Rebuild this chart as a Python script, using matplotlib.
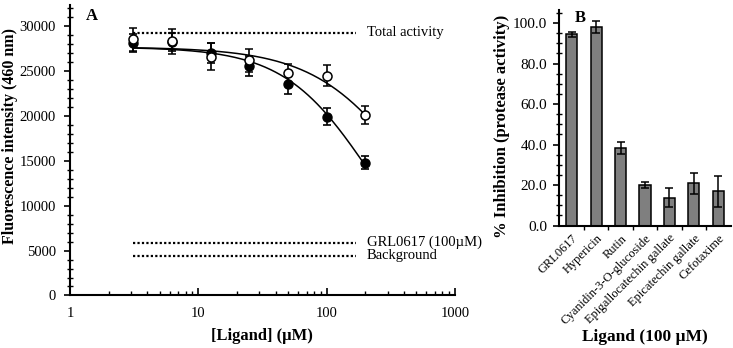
import numpy as np
import matplotlib.pyplot as plt
from matplotlib.ticker import MultipleLocator, LogLocator, NullFormatter, FixedLocator

plt.rcParams['font.family'] = ['Liberation Serif', 'DejaVu Serif']

# panel A: fluorescence vs ligand concentration
conc = [3.125, 6.25, 12.5, 25, 50, 100, 200]
filled_mean = [28200, 28300, 27050, 25550, 23550, 19950, 14800]
filled_err = [1000, 1000, 1100, 1100, 1100, 1000, 700]
open_mean = [28550, 28350, 26600, 26200, 24750, 24500, 20150]
open_err = [1300, 1400, 1500, 1300, 1100, 1200, 1000]

# fitted dose-response parameters (top, IC50, hill)
filled_fit = (27700, 215, 1.3)
open_fit = (27700, 469, 1.15)

ref_levels = [29300, 5900, 4450]
ref_names = ['Total activity', 'GRL0617 (100\u00b5M)', 'Background']

# panel B: inhibition at 100 uM
ligands = ['GRL0617', 'Hypericin', 'Rutin', 'Cyanidin-3-O-glucoside',
           'Epigallocatechin gallate', 'Epicatechin gallate', 'Cefotaxime']
inhibition = [94.5, 97.9, 38.3, 20.0, 13.8, 20.8, 16.8]
inhibition_err = [1.3, 2.9, 3.1, 1.4, 4.9, 5.0, 7.6]


def dose_response(x, top, ic50, hill):
    return top / (1 + (x / ic50) ** hill)


fig = plt.figure(figsize=(7.33, 3.48), dpi=100)
ax = fig.add_axes([0.0955, 0.151, 0.525, 0.835])

xs = np.logspace(np.log10(conc[0]), np.log10(conc[-1]), 200)
ax.plot(xs, dose_response(xs, *filled_fit), color='black', lw=1.1, zorder=2)
ax.plot(xs, dose_response(xs, *open_fit), color='black', lw=1.1, zorder=2)

ax.errorbar(conc, filled_mean, yerr=filled_err, fmt='o', ms=6.5, mfc='black',
            mec='black', ecolor='black', elinewidth=1.2, capsize=3, capthick=1.2, zorder=3)
ax.errorbar(conc, open_mean, yerr=open_err, fmt='o', ms=6.5, mfc='white',
            mec='black', mew=1.1, ecolor='black', elinewidth=1.2, capsize=3, capthick=1.2, zorder=4)

for lvl, name in zip(ref_levels, ref_names):
    ax.plot([3.1, 170], [lvl, lvl], color='black', ls=(0, (1, 1)), lw=1.6)
    ax.text(205, lvl, name, fontsize=10.5, va='center', ha='left')

ax.set_xscale('log')
ax.set_xlim(1, 1000)
ax.set_ylim(0, 32400)
ax.yaxis.set_major_locator(MultipleLocator(5000))
ax.yaxis.set_minor_locator(MultipleLocator(1000))
ax.xaxis.set_major_locator(FixedLocator([1, 10, 100, 1000]))
ax.set_xticklabels(['1', '10', '100', '1000'])
ax.xaxis.set_minor_locator(LogLocator(base=10, subs=np.arange(2, 10)))
ax.xaxis.set_minor_formatter(NullFormatter())
ax.tick_params(axis='x', which='both', direction='in', labelsize=10.5, pad=8)
ax.tick_params(axis='x', which='major', length=5, width=1.2)
ax.tick_params(axis='x', which='minor', length=3, width=1)
ax.tick_params(axis='y', which='major', direction='out', length=4, width=1.2,
               labelsize=10.5, pad=6)
ax.tick_params(axis='y', which='minor', direction='inout', length=4, width=1)
for side in ['top', 'right']:
    ax.spines[side].set_visible(False)
for side in ['left', 'bottom']:
    ax.spines[side].set_linewidth(1.5)
ax.set_xlabel('[Ligand] (\u00b5M)', fontsize=12, fontweight='bold', labelpad=6)
ax.set_ylabel('Fluorescence intensity (460 nm)', fontsize=11.5, fontweight='bold')
ax.yaxis.set_label_coords(-0.135, 0.55)
ax.text(0.04, 0.99, 'A', transform=ax.transAxes, fontsize=12, fontweight='bold', va='top')

# panel B
bx = fig.add_axes([0.7633, 0.352, 0.2333, 0.619])
pos = np.arange(len(ligands))
bx.bar(pos, inhibition, width=0.46, color='#7f7f7f', edgecolor='black', lw=1.1,
       yerr=inhibition_err, error_kw=dict(ecolor='black', elinewidth=1.1, capsize=3, capthick=1.1))
bx.set_xlim(-0.5, len(ligands) - 0.5)
bx.set_ylim(0, 106.4)
bx.yaxis.set_major_locator(MultipleLocator(20))
bx.yaxis.set_minor_locator(MultipleLocator(5))
bx.yaxis.set_major_formatter(plt.FuncFormatter(lambda v, p: f'{v:.1f}'))
bx.set_xticks(pos)
bx.set_xticklabels(ligands, rotation=45, ha='right', rotation_mode='anchor', fontsize=9)
bx.xaxis.set_minor_locator(FixedLocator(pos[:-1] + 0.5))
bx.tick_params(axis='x', which='major', length=0, pad=5)
bx.tick_params(axis='x', which='minor', direction='out', length=3, width=1)
bx.tick_params(axis='y', which='major', direction='out', length=4, width=1.2,
               labelsize=11, pad=5)
bx.tick_params(axis='y', which='minor', direction='inout', length=4, width=1)
for side in ['top', 'right']:
    bx.spines[side].set_visible(False)
for side in ['left', 'bottom']:
    bx.spines[side].set_linewidth(1.5)
bx.set_ylabel('% Inhibition (protease activity)', fontsize=12, fontweight='bold')
bx.yaxis.set_label_coords(-0.29, 0.46)
bx.set_xlabel('Ligand (100 \u00b5M)', fontsize=12.5, fontweight='bold', va='top')
bx.xaxis.set_label_coords(0.5, -0.48)
bx.text(0.09, 1.0, 'B', transform=bx.transAxes, fontsize=12, fontweight='bold', va='top')

fig.savefig('out.png', dpi=100)
